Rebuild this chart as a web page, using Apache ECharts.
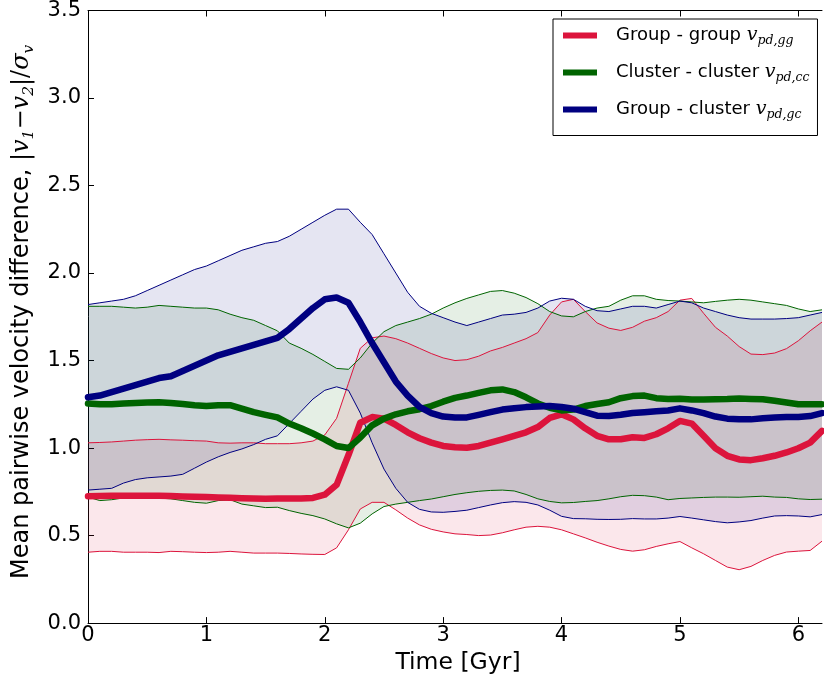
<!DOCTYPE html>
<html>
<head>
<meta charset="utf-8">
<script src="https://cdn.jsdelivr.net/npm/echarts@6/dist/echarts.min.js"></script>
<style>
  html, body { margin: 0; padding: 0; background: #fff; }
  #chart { width: 824px; height: 680px; }
</style>
</head>
<body>
<div id="chart"></div>
<script>
// Time samples [Gyr]
const time = [
  0.0, 0.1, 0.2, 0.3, 0.4, 0.5, 0.6, 0.7, 0.8, 0.9,
  1.0, 1.1, 1.2, 1.3, 1.4, 1.5, 1.6, 1.7, 1.8, 1.9,
  2.0, 2.1, 2.2, 2.3, 2.4, 2.5, 2.6, 2.7, 2.8, 2.9,
  3.0, 3.1, 3.2, 3.3, 3.4, 3.5, 3.6, 3.7, 3.8, 3.9,
  4.0, 4.1, 4.2, 4.3, 4.4, 4.5, 4.6, 4.7, 4.8, 4.9,
  5.0, 5.1, 5.2, 5.3, 5.4, 5.5, 5.6, 5.7, 5.8, 5.9,
  6.0, 6.1, 6.2
];

// Group - group
const ggMean = [
  0.725, 0.726, 0.727, 0.728, 0.728, 0.728, 0.727, 0.726, 0.724, 0.722,
  0.720, 0.718, 0.716, 0.714, 0.712, 0.711, 0.712, 0.712, 0.712, 0.715,
  0.734, 0.790, 0.960, 1.145, 1.177, 1.168, 1.132, 1.090, 1.056, 1.031,
  1.012, 1.005, 1.002, 1.012, 1.031, 1.050, 1.070, 1.090, 1.120, 1.172,
  1.193, 1.164, 1.113, 1.070, 1.050, 1.050, 1.062, 1.058, 1.079, 1.113,
  1.155, 1.140, 1.070, 0.999, 0.956, 0.935, 0.931, 0.942, 0.956, 0.975,
  0.999, 1.031, 1.098
];
const ggUpper = [
  1.030, 1.032, 1.035, 1.040, 1.045, 1.048, 1.050, 1.047, 1.045, 1.042,
  1.040, 1.030, 1.028, 1.030, 1.030, 1.025, 1.025, 1.025, 1.030, 1.040,
  1.075, 1.170, 1.370, 1.570, 1.630, 1.640, 1.625, 1.600, 1.570, 1.540,
  1.515, 1.500, 1.505, 1.525, 1.555, 1.575, 1.600, 1.625, 1.660, 1.760,
  1.835, 1.850, 1.780, 1.715, 1.685, 1.672, 1.690, 1.725, 1.745, 1.780,
  1.845, 1.855, 1.770, 1.690, 1.640, 1.580, 1.537, 1.534, 1.543, 1.568,
  1.613, 1.670, 1.720
];
const ggLower = [
  0.405, 0.410, 0.410, 0.405, 0.405, 0.405, 0.403, 0.410, 0.408, 0.405,
  0.403, 0.405, 0.410, 0.405, 0.400, 0.400, 0.400, 0.398, 0.395, 0.393,
  0.392, 0.430, 0.533, 0.652, 0.690, 0.690, 0.647, 0.600, 0.561, 0.536,
  0.521, 0.510, 0.506, 0.500, 0.503, 0.516, 0.533, 0.548, 0.553, 0.548,
  0.533, 0.510, 0.487, 0.462, 0.440, 0.421, 0.411, 0.419, 0.438, 0.453,
  0.466, 0.430, 0.396, 0.358, 0.320, 0.305, 0.324, 0.358, 0.387, 0.406,
  0.411, 0.415, 0.468
];

// Cluster - cluster
const ccMean = [
  1.255, 1.250, 1.250, 1.255, 1.258, 1.260, 1.262, 1.258, 1.252, 1.245,
  1.240, 1.245, 1.245, 1.225, 1.205, 1.190, 1.175, 1.140, 1.113, 1.083,
  1.050, 1.012, 1.000, 1.060, 1.130, 1.168, 1.193, 1.210, 1.222, 1.240,
  1.265, 1.287, 1.300, 1.315, 1.330, 1.335, 1.320, 1.290, 1.255, 1.230,
  1.215, 1.220, 1.240, 1.252, 1.262, 1.285, 1.297, 1.300, 1.285, 1.280,
  1.282, 1.278, 1.277, 1.279, 1.280, 1.283, 1.281, 1.279, 1.270, 1.260,
  1.250, 1.250, 1.250
];
const ccUpper = [
  1.810, 1.810, 1.810, 1.805, 1.800, 1.805, 1.815, 1.810, 1.805, 1.800,
  1.800, 1.790, 1.765, 1.745, 1.730, 1.700, 1.670, 1.600, 1.570, 1.535,
  1.495, 1.455, 1.450, 1.515, 1.600, 1.665, 1.700, 1.720, 1.740, 1.765,
  1.800, 1.830, 1.855, 1.875, 1.895, 1.900, 1.885, 1.860, 1.825, 1.780,
  1.755, 1.750, 1.780, 1.800, 1.810, 1.845, 1.870, 1.870, 1.850, 1.843,
  1.840, 1.835, 1.830, 1.838, 1.845, 1.850, 1.845, 1.835, 1.825, 1.815,
  1.795, 1.780, 1.790
];
const ccLower = [
  0.720, 0.700, 0.705, 0.715, 0.718, 0.717, 0.714, 0.710, 0.700, 0.690,
  0.685, 0.700, 0.705, 0.680, 0.670, 0.660, 0.662, 0.643, 0.627, 0.614,
  0.595, 0.567, 0.544, 0.571, 0.624, 0.666, 0.680, 0.690, 0.700, 0.709,
  0.722, 0.735, 0.745, 0.753, 0.758, 0.760, 0.755, 0.735, 0.710, 0.695,
  0.687, 0.689, 0.695, 0.700, 0.710, 0.722, 0.730, 0.728, 0.720, 0.705,
  0.712, 0.715, 0.718, 0.720, 0.720, 0.719, 0.722, 0.725, 0.720, 0.718,
  0.710, 0.706, 0.708
];

// Group - cluster
const gcMean = [
  1.290, 1.300, 1.320, 1.340, 1.360, 1.380, 1.400, 1.410, 1.440, 1.470,
  1.500, 1.530, 1.550, 1.570, 1.590, 1.610, 1.630, 1.680, 1.740, 1.800,
  1.850, 1.860, 1.830, 1.720, 1.600, 1.490, 1.380, 1.300, 1.235, 1.200,
  1.180, 1.175, 1.175, 1.190, 1.205, 1.220, 1.228, 1.234, 1.238, 1.240,
  1.235, 1.225, 1.205, 1.185, 1.183, 1.190, 1.200, 1.205, 1.210, 1.215,
  1.227, 1.215, 1.200, 1.180, 1.168, 1.164, 1.164, 1.170, 1.174, 1.178,
  1.178, 1.183, 1.200
];
const gcUpper = [
  1.820, 1.830, 1.840, 1.850, 1.870, 1.900, 1.930, 1.960, 1.990, 2.020,
  2.040, 2.070, 2.100, 2.130, 2.150, 2.170, 2.180, 2.210, 2.250, 2.290,
  2.330, 2.365, 2.365, 2.290, 2.220, 2.110, 2.000, 1.890, 1.810, 1.770,
  1.745, 1.720, 1.700, 1.720, 1.740, 1.760, 1.765, 1.775, 1.800, 1.840,
  1.856, 1.850, 1.810, 1.785, 1.780, 1.795, 1.810, 1.810, 1.800, 1.820,
  1.840, 1.830, 1.800, 1.780, 1.760, 1.745, 1.737, 1.737, 1.737, 1.740,
  1.745, 1.760, 1.775
];
const gcLower = [
  0.760, 0.765, 0.770, 0.800, 0.820, 0.830, 0.835, 0.840, 0.850, 0.885,
  0.920, 0.950, 0.975, 0.995, 1.020, 1.050, 1.070, 1.140, 1.210, 1.280,
  1.330, 1.350, 1.330, 1.200, 1.030, 0.880, 0.770, 0.690, 0.650, 0.635,
  0.633, 0.638, 0.645, 0.660, 0.675, 0.688, 0.694, 0.690, 0.675, 0.645,
  0.610, 0.597, 0.596, 0.593, 0.592, 0.593, 0.597, 0.595, 0.595, 0.600,
  0.609, 0.600, 0.590, 0.580, 0.573, 0.578, 0.586, 0.600, 0.612, 0.614,
  0.612, 0.607, 0.620
];

// Axis ticks
const xTicks = [0, 1, 2, 3, 4, 5, 6];
const yTicks = [0, 0.5, 1, 1.5, 2, 2.5, 3, 3.5];

// Legend entries
const seriesNames = ['Group - group', 'Cluster - cluster', 'Group - cluster'];
const seriesSubs = ['pd,gg', 'pd,cc', 'pd,gc'];
const seriesColors = ['#dc143c', '#006400', '#000080'];
const bandFills = ['rgba(220,20,60,0.1)', 'rgba(0,100,0,0.1)', 'rgba(0,0,128,0.1)'];

const pairs = arr => time.map((t, i) => [t, arr[i]]);

// Shaded region between the lower and upper envelope, as one polygon
function bandFill(key, lower, upper, fill) {
  return {
    type: 'custom', name: key + ' band', silent: true, z: 1,
    data: time.map((t, i) => [t, lower[i], upper[i]]),
    encode: { x: 0, y: [1, 2] },
    renderItem: (params, api) => {
      if (params.dataIndex !== 0) return null;
      const pts = [];
      for (let i = 0; i < time.length; i++) pts.push(api.coord([time[i], upper[i]]));
      for (let i = time.length - 1; i >= 0; i--) pts.push(api.coord([time[i], lower[i]]));
      return { type: 'polygon', shape: { points: pts }, style: { fill: fill, stroke: null } };
    }
  };
}

function thinLine(name, values, color) {
  return {
    type: 'line', name: name, data: pairs(values), symbol: 'none', silent: true, z: 2,
    lineStyle: { color: color, width: 1 }, itemStyle: { color: color }
  };
}

function meanLine(name, values, color) {
  return {
    type: 'line', name: name, data: pairs(values), symbol: 'none', z: 3,
    lineStyle: { color: color, width: 6.5, cap: 'round', join: 'round' },
    itemStyle: { color: color }
  };
}

const tickFont = { fontFamily: 'DejaVu Sans', fontSize: 21, color: '#000' };
const mathFont = 'DejaVu Serif';

const chart = echarts.init(document.getElementById('chart'), null, { renderer: 'canvas' });
chart.setOption({
  animation: false,
  backgroundColor: '#fff',
  grid: { left: 88, right: 2, top: 9.3, bottom: 55.4, containLabel: false },
  legend: {
    data: seriesNames,
    orient: 'vertical',
    left: 553, top: 19,
    padding: [7, 8, 14, 10],
    itemGap: 15.5,
    itemWidth: 34, itemHeight: 6,
    icon: 'rect',
    borderColor: '#000', borderWidth: 1, borderRadius: 0,
    backgroundColor: '#fff',
    formatter: name => {
      const i = seriesNames.indexOf(name);
      return '{a|' + name + ' }{v|v}{s|' + seriesSubs[i] + '}';
    },
    textStyle: {
      color: '#000',
      rich: {
        a: { fontFamily: 'DejaVu Sans', fontSize: 18, lineHeight: 24, color: '#000', padding: [0, 0, 0, 14] },
        v: { fontFamily: mathFont, fontStyle: 'italic', fontSize: 19, lineHeight: 24, color: '#000' },
        s: { fontFamily: mathFont, fontStyle: 'italic', fontSize: 12.5, lineHeight: 13, verticalAlign: 'bottom', color: '#000' }
      }
    }
  },
  xAxis: [
    {
      type: 'value', min: 0, max: 6.2, position: 'bottom',
      name: 'Time [Gyr]', nameLocation: 'middle', nameGap: 23,
      nameTextStyle: { fontFamily: 'DejaVu Sans', fontSize: 23.5, color: '#000', padding: [0, 0, 0, 6] },
      axisLine: { show: true, onZero: false, lineStyle: { color: '#000', width: 1 } },
      axisTick: { show: true, inside: true, length: 6, customValues: xTicks, lineStyle: { color: '#000' } },
      axisLabel: Object.assign({ customValues: xTicks, margin: 2, formatter: v => String(v) }, tickFont),
      splitLine: { show: false }
    },
    {
      type: 'value', min: 0, max: 6.2, position: 'top',
      axisLine: { show: true, onZero: false, lineStyle: { color: '#000', width: 1 } },
      axisTick: { show: true, inside: true, length: 6, customValues: xTicks, lineStyle: { color: '#000' } },
      axisLabel: { show: false },
      splitLine: { show: false }
    }
  ],
  yAxis: {
    type: 'value', min: 0, max: 3.5, interval: 0.5,
    name: '{t|Mean pairwise velocity difference, }{m||}{v|v}{s|1}{m|\u2212}{v|v}{s|2}{m||/}{v|\u03c3}{s|v}',
    nameLocation: 'middle', nameRotate: 90, nameGap: 46,
    nameTextStyle: {
      color: '#000',
      padding: [0, 0, 0, 10],
      rich: {
        t: { fontFamily: 'DejaVu Sans', fontSize: 24, lineHeight: 30, color: '#000' },
        m: { fontFamily: mathFont, fontSize: 24, lineHeight: 30, color: '#000' },
        v: { fontFamily: mathFont, fontStyle: 'italic', fontSize: 24, lineHeight: 30, color: '#000' },
        s: { fontFamily: mathFont, fontStyle: 'italic', fontSize: 15.5, lineHeight: 15, verticalAlign: 'bottom', color: '#000' }
      }
    },
    axisLine: { show: true, lineStyle: { color: '#000', width: 1 } },
    axisTick: { show: true, inside: true, length: 6, customValues: yTicks, lineStyle: { color: '#000' } },
    axisLabel: Object.assign({ customValues: yTicks, margin: 7, formatter: v => v.toFixed(1) }, tickFont),
    splitLine: { show: false }
  },
  series: [
    bandFill('gg', ggLower, ggUpper, bandFills[0]),
    bandFill('cc', ccLower, ccUpper, bandFills[1]),
    bandFill('gc', gcLower, gcUpper, bandFills[2]),
    thinLine('gg lower', ggLower, seriesColors[0]),
    thinLine('gg upper', ggUpper, seriesColors[0]),
    thinLine('cc lower', ccLower, seriesColors[1]),
    thinLine('cc upper', ccUpper, seriesColors[1]),
    thinLine('gc lower', gcLower, seriesColors[2]),
    thinLine('gc upper', gcUpper, seriesColors[2]),
    meanLine(seriesNames[0], ggMean, seriesColors[0]),
    meanLine(seriesNames[1], ccMean, seriesColors[1]),
    meanLine(seriesNames[2], gcMean, seriesColors[2])
  ]
});
</script>
</body>
</html>
